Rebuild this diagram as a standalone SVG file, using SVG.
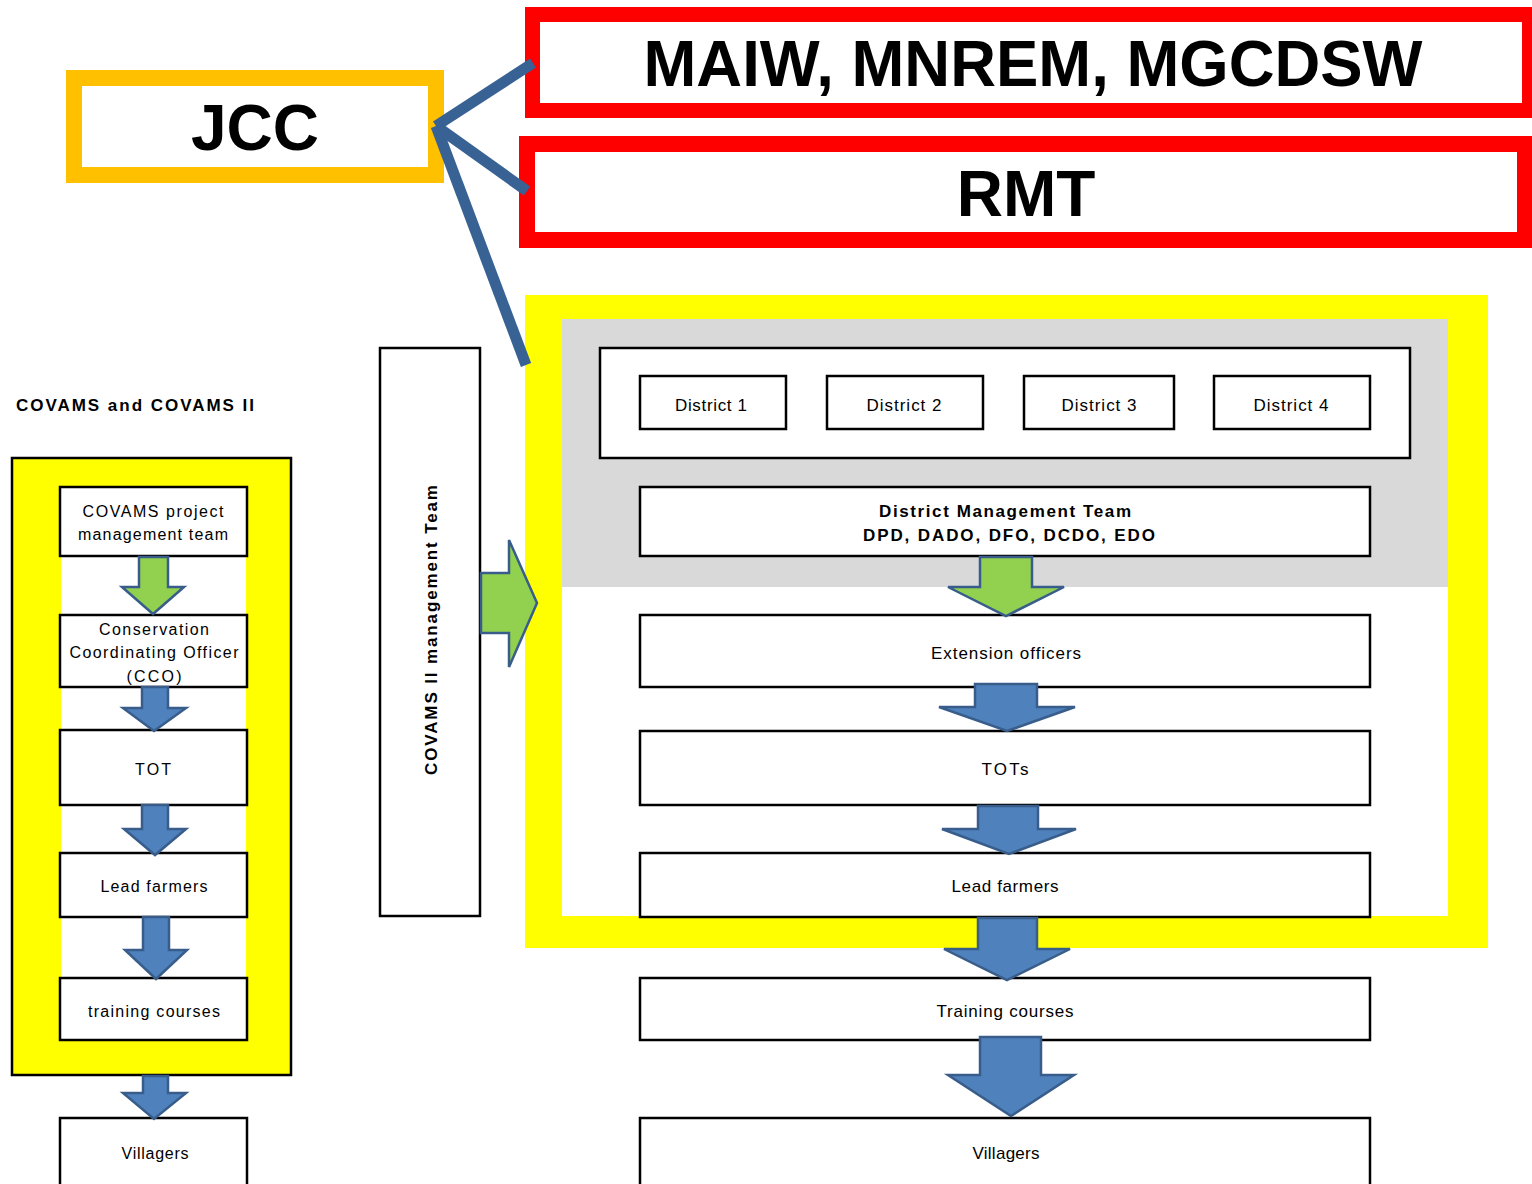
<svg xmlns="http://www.w3.org/2000/svg" width="1532" height="1184" viewBox="0 0 1532 1184">
<style>
.box{fill:#fff;stroke:#000;stroke-width:2.5}
.t{font-family:"Liberation Sans",Arial,sans-serif;font-size:16px;fill:#000;text-anchor:middle}
.tr{font-family:"Liberation Sans",Arial,sans-serif;font-size:17px;fill:#000;text-anchor:middle}
.big{font-family:"Liberation Sans",Arial,sans-serif;font-size:64px;font-weight:bold;fill:#000;text-anchor:middle}
.bold{font-weight:bold}
.ab{fill:#4F81BD;stroke:#385D8A;stroke-width:2.5;stroke-linejoin:miter}
.ag{fill:#92D050;stroke:#385D8A;stroke-width:2.5;stroke-linejoin:miter}
.conn{stroke:#386294;stroke-width:11;fill:none}
</style>
<rect x="0" y="0" width="1532" height="1184" fill="#fff"/>

<!-- background frames -->
<g id="right-frame">
<rect x="525" y="295" width="963" height="653" fill="#FFFF00"/>
<rect x="562" y="319" width="886" height="268" fill="#D9D9D9"/>
<rect x="562" y="587" width="886" height="329" fill="#fff"/>
</g>
<g id="left-frame">
<rect x="12" y="458" width="279" height="617" fill="#FFFF00" stroke="#000" stroke-width="2.5"/>
<rect x="61" y="486" width="185" height="554" fill="#fff"/>
</g>

<g id="jcc">
<rect x="74" y="78" width="362" height="97" fill="#fff" stroke="#FFC000" stroke-width="16"/>
<text class="big" x="255" y="150">JCC</text>
</g>
<g id="ministries">
<rect x="532.5" y="14.5" width="997" height="96" fill="#fff" stroke="#FF0000" stroke-width="15"/>
<text class="big" x="1033" y="86" textLength="779" lengthAdjust="spacingAndGlyphs">MAIW, MNREM, MGCDSW</text>
</g>
<g id="rmt">
<rect x="527" y="144" width="998" height="96" fill="#fff" stroke="#FF0000" stroke-width="16"/>
<text class="big" x="1026" y="216">RMT</text>
</g>

<!-- connectors -->
<g id="connectors">
<line class="conn" x1="436" y1="126" x2="533" y2="63"/>
<line class="conn" x1="436" y1="126" x2="527" y2="191"/>
<line class="conn" x1="436" y1="126" x2="526" y2="365"/>
</g>

<text id="covams-title" class="tr bold" x="16" y="411" style="text-anchor:start" textLength="238" lengthAdjust="spacing">COVAMS and COVAMS II</text>

<!-- left column -->
<g id="l-pmt">
<rect class="box" x="60" y="487" width="187" height="69"/>
<text class="t" x="153" y="517" textLength="141" lengthAdjust="spacing">COVAMS project</text>
<text class="t" x="153" y="540" textLength="150" lengthAdjust="spacing">management team</text>
</g>
<g id="l-cco">
<rect class="box" x="60" y="615" width="187" height="72"/>
<text class="t" x="154" y="635" textLength="110" lengthAdjust="spacing">Conservation</text>
<text class="t" x="154" y="658" textLength="169" lengthAdjust="spacing">Coordinating Officer</text>
<text class="t" x="154" y="682" textLength="55" lengthAdjust="spacing">(CCO)</text>
</g>
<g id="l-tot">
<rect class="box" x="60" y="730" width="187" height="75"/>
<text class="t" x="153" y="775" textLength="36" lengthAdjust="spacing">TOT</text>
</g>
<g id="l-lead">
<rect class="box" x="60" y="853" width="187" height="64"/>
<text class="t" x="154" y="892" textLength="107" lengthAdjust="spacing">Lead farmers</text>
</g>
<g id="l-training">
<rect class="box" x="60" y="978" width="187" height="62"/>
<text class="t" x="154" y="1017" textLength="132" lengthAdjust="spacing">training courses</text>
</g>
<g id="l-villagers">
<rect class="box" x="60" y="1118" width="187" height="80"/>
<text class="t" x="155" y="1159" textLength="67" lengthAdjust="spacing">Villagers</text>
</g>

<!-- middle -->
<g id="covams2-team">
<rect class="box" x="380" y="348" width="100" height="568"/>
<text class="tr bold" transform="translate(437,630) rotate(-90)" textLength="290" lengthAdjust="spacing">COVAMS II management Team</text>
</g>

<!-- right column -->
<g id="districts">
<rect class="box" x="600" y="348" width="810" height="110"/>
</g>
<g id="district1"><rect class="box" x="640" y="376" width="146" height="53"/><text class="tr" x="711" y="411" textLength="72" lengthAdjust="spacing">District 1</text></g>
<g id="district2"><rect class="box" x="827" y="376" width="156" height="53"/><text class="tr" x="904" y="411" textLength="75" lengthAdjust="spacing">District 2</text></g>
<g id="district3"><rect class="box" x="1024" y="376" width="150" height="53"/><text class="tr" x="1099" y="411" textLength="75" lengthAdjust="spacing">District 3</text></g>
<g id="district4"><rect class="box" x="1214" y="376" width="156" height="53"/><text class="tr" x="1291" y="411" textLength="75" lengthAdjust="spacing">District 4</text></g>
<g id="dmt">
<rect class="box" x="640" y="487" width="730" height="69"/>
<text class="tr bold" x="1005" y="517" textLength="252" lengthAdjust="spacing">District Management Team</text>
<text class="tr bold" x="1009" y="541" textLength="292" lengthAdjust="spacing">DPD, DADO, DFO, DCDO, EDO</text>
</g>
<g id="r-ext">
<rect class="box" x="640" y="615" width="730" height="72"/>
<text class="tr" x="1006" y="659" textLength="150" lengthAdjust="spacing">Extension officers</text>
</g>
<g id="r-tots">
<rect class="box" x="640" y="731" width="730" height="74"/>
<text class="tr" x="1005" y="775" textLength="47" lengthAdjust="spacing">TOTs</text>
</g>
<g id="r-lead">
<rect class="box" x="640" y="853" width="730" height="64"/>
<text class="tr" x="1005" y="892" textLength="107" lengthAdjust="spacing">Lead farmers</text>
</g>
<g id="r-training">
<rect class="box" x="640" y="978" width="730" height="62"/>
<text class="tr" x="1005" y="1017" textLength="137" lengthAdjust="spacing">Training courses</text>
</g>
<g id="r-villagers">
<rect class="box" x="640" y="1118" width="730" height="80"/>
<text class="tr" x="1006" y="1159" textLength="67" lengthAdjust="spacing">Villagers</text>
</g>

<!-- block arrows -->
<g id="arrows">
<path class="ag" d="M139,557 H168 V587 H184 L153,614 L122,587 H139 Z"/>
<path class="ab" d="M142,687 H168 V708 H186 L154,731 L123,708 H142 Z"/>
<path class="ab" d="M142,805 H168 V829 H186 L155,855 L124,829 H142 Z"/>
<path class="ab" d="M143,917 H169 V950 H187 L156,979 L125,950 H143 Z"/>
<path class="ab" d="M143,1076 H168 V1093 H186 L154,1119 L123,1093 H143 Z"/>
<path class="ag" d="M481,573 H509 V540 L537,603 L509,667 V633 H481 Z"/>
<path class="ag" d="M980,557 H1032 V587 H1064 L1006,616 L948,587 H980 Z"/>
<path class="ab" d="M975,684 H1037 V707 H1075 L1007,731 L939,707 H975 Z"/>
<path class="ab" d="M978,806 H1038 V829 H1076 L1009,854 L942,829 H978 Z"/>
<path class="ab" d="M978,918 H1037 V949 H1070 L1007,980 L944,949 H978 Z"/>
<path class="ab" d="M980,1037 H1041 V1075 H1074 L1011,1116 L948,1075 H980 Z"/>
</g>
</svg>
